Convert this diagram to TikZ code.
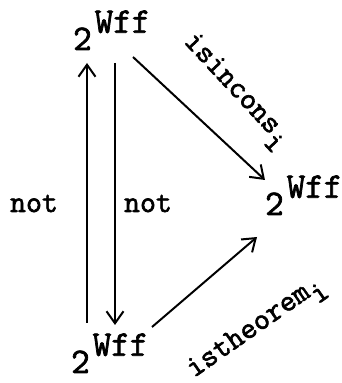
\documentclass[tikz,border=0pt]{standalone}
\usepackage{fontspec}
\newfontfamily\diagfont{Latin Modern Mono}[FakeBold=2]
\usetikzlibrary{arrows.meta}
\newcommand{\twoWff}{2\hspace{3pt}\raisebox{0.48em}{Wff}}
\begin{document}
\begin{tikzpicture}[x=1pt,y=1pt,
  obj/.style={anchor=base west,inner sep=0pt,font=\diagfont\fontsize{36}{38}\selectfont},
  lbl/.style={inner sep=0pt,font=\diagfont\fontsize{31}{33}\selectfont},
  arr/.style={line width=2pt,-{Straight Barb[length=12pt,width=17pt,line width=2pt]}}]
\useasboundingbox (0,0) rectangle (342,383);
\node[obj] (top) at (73,333) {\twoWff};
\node[obj] (right) at (265,168) {\twoWff};
\node[obj] (bot) at (71,10) {\twoWff};
\draw[arr] ([shift={(16,50)}]bot.base west) -- ([shift={(14,-13)}]top.base west);
\draw[arr] ([shift={(42,-13)}]top.base west) -- ([shift={(44,48)}]bot.base west);
\draw[arr] ([shift={(60,-7)}]top.base west) -- ([shift={(0,35)}]right.base west);
\draw[arr] ([shift={(81,46)}]bot.base west) -- ([shift={(-8,-22)}]right.base west);
\node[lbl,anchor=base] (n1) at (34,171) {not};
\node[lbl,anchor=base] (n2) at (148,171) {not};
\node[lbl,rotate=-47] (l1) at (235,291) {isincons\raisebox{-0.35em}{i}};
\node[lbl,rotate=35] (l2) at (257,54) {istheorem\raisebox{-0.35em}{i}};
\end{tikzpicture}
\end{document}
